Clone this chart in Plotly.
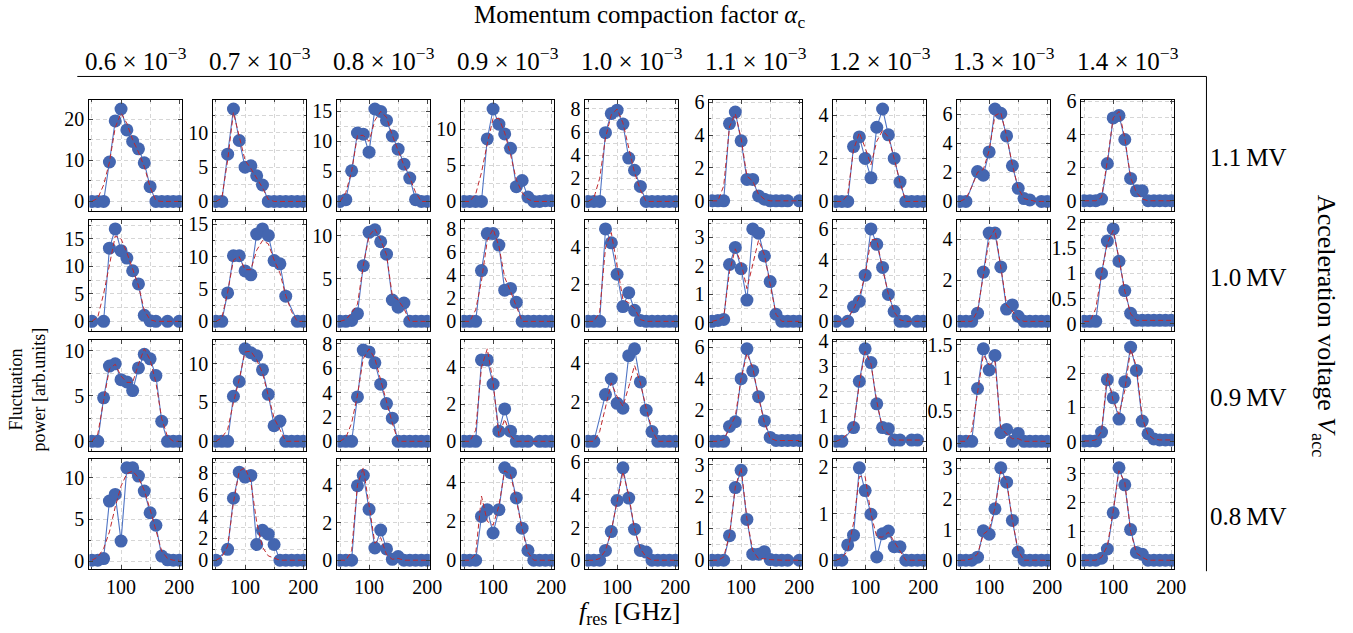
import plotly.graph_objects as go

# ---------------- data ----------------
f_res = [50, 60, 70, 80, 90, 100, 110, 120, 130, 140, 150, 160, 170, 180, 190, 200]

alpha_labels = ["0.6", "0.7", "0.8", "0.9", "1.0", "1.1", "1.2", "1.3", "1.4"]
voltage_labels = ["1.1\u2009MV", "1.0\u2009MV", "0.9\u2009MV", "0.8\u2009MV"]

# row 1 (1.1 MV)
b11 = [0, 0, 0, 9.6, 19.6, 22.5, 17.4, 14.6, 12.8, 9.4, 3.6, 0, 0, 0, 0, 0]
r11 = [0, 0.8, 4, 9.5, 18, 21.5, 19, 15, 12, 8.5, 3.5, 0.2, 0, 0, 0, 0]
b12 = [0, 0, 6.9, 13.5, 8.9, 5.0, 5.2, 3.75, 2.4, 0, 0, 0, 0, 0, 0, 0]
r12 = [0, 0.5, 6, 13, 9.5, 6, 4.8, 3.5, 2, 0.3, 0, 0, 0, 0, 0, 0]
b13 = [0, 0.3, 5.1, 11.4, 11.2, 8.2, 15.4, 15.0, 13.5, 10.9, 8.7, 6.2, 3.9, 0.3, 0, 0]
r13 = [0, 1.5, 5, 11, 11, 10, 13.5, 15, 14, 11, 8.5, 6, 4, 1.5, 0, 0]
b14 = [0, 0, 0, 0, 8.65, 12.8, 10.7, 9.35, 7.35, 2.05, 2.9, 0.6, 0, 0, 0.1, 0.1]
r14 = [0, 0, 1, 4, 8, 11.5, 11.5, 9.5, 6.5, 3, 1.2, 0.3, 0, 0, 0, 0]
b15 = [0, 0, 0, 5.95, 7.6, 7.9, 6.7, 3.75, 2.7, 1.3, 0, 0, 0, 0, 0, 0]
r15 = [0, 0.3, 2, 5.5, 7.5, 8, 6.8, 4.5, 2.5, 1, 0, 0, 0, 0, 0, 0]
b16 = [0, 0, 0, 4.7, 5.4, 3.65, 1.3, 1.3, 0.3, 0.1, 0, 0, 0, 0, None, 0]
r16 = [0, 0, 0.9, 4.5, 5.3, 3.8, 1.5, 1.2, 0.4, 0.1, 0, 0, 0, 0, 0, 0]
b17 = [0, 0, 0, 2.55, 3.0, 2.0, 1.1, 3.45, 4.3, 3.1, 2.0, 0.9, 0, 0, 0, 0]
r17 = [0, 0, 0.3, 2.4, 3.2, 2.5, 1.7, 2.8, 3.3, 3.0, 2.0, 0.9, 0, 0, 0, 0]
b18 = [0, 0, None, 2.05, 1.8, 3.4, 6.35, 6.05, 4.5, 2.45, 0.9, 0.2, 0.1, None, 0, 0]
r18 = [0, 0.2, 1, 2, 2.2, 3.5, 5.9, 6.1, 4.5, 2.5, 0.9, 0.2, 0.1, 0, 0, 0]
b19 = [0, 0, 0, 0.1, 2.25, 5.0, 5.15, 3.7, 1.35, 0.6, 0.6, 0, 0, 0, 0, 0]
r19 = [0, 0, 0, 0.2, 2.4, 5.0, 5.4, 3.8, 1.4, 0.5, 0.1, 0, 0, 0, 0, 0]

# row 2 (1.0 MV)
b21 = [0, None, 0, 13.3, 16.8, 12.85, 11.5, 9.2, 6.8, 1.1, 0.1, 0, None, 0, None, 0]
r21 = [0, 0.8, 5, 10.5, 15.5, 15, 12.5, 9.5, 6.5, 2, 0.3, 0, 0, 0, 0, 0]
b22 = [0, 0, 4.4, 10.15, 10.15, 7.8, 7.2, 13.5, 14.3, 13.3, 9.4, 8.9, 3.9, None, 0, 0]
r22 = [0, 0.5, 4.5, 9.5, 10, 8, 8, 11, 12.5, 12, 9.5, 7.5, 4, 1.5, 0, 0]
b23 = [0, 0, 0.1, 0.9, 6.5, 10.4, 10.7, 9.3, 7.85, 2.5, 1.65, 2.15, 0, 0, 0, 0]
r23 = [0, 0.2, 1, 2, 6.5, 10, 10.8, 9.5, 7.8, 3, 2.5, 1.5, 0, 0, 0, 0]
b24 = [0, 0, 0, 4.4, 7.6, 7.6, 6.6, 2.7, 2.85, 1.65, 0, 0, 0, 0, 0, 0]
r24 = [0, 0, 1, 3.5, 7, 8, 6.5, 3.8, 2.6, 1.3, 0, 0, 0, 0, 0, 0]
b25 = [0, 0, 0, 5.0, 4.25, 2.55, 0.8, 1.55, 0.6, 0.05, 0, 0, 0, 0, 0, 0]
r25 = [0, 0, 0.5, 4, 4.8, 3, 1.2, 1.0, 0.7, 0.1, 0, 0, 0, 0, 0, 0]
b26 = [0.05, 0.08, 0.12, 2.05, 2.65, 1.9, 0.8, 3.3, 3.15, 2.35, 1.45, 0.3, 0.05, 0.05, 0.05, 0.05]
r26 = [0.05, 0.1, 0.2, 1.8, 2.6, 2.1, 1.2, 2.1, 2.9, 2.4, 1.3, 0.3, 0.05, 0.05, 0.05, 0.05]
b27 = [0, None, 0, 0.95, 1.3, 3.0, 6.0, 5.0, 3.5, 1.75, 0.65, 0, 0, None, 0, 0]
r27 = [0, 0, 0.2, 0.8, 1.6, 3.0, 5.3, 5.3, 3.4, 1.8, 0.6, 0.1, 0, 0, 0, 0]
b28 = [0, 0, 0, 0.4, 2.4, 4.3, 4.3, 2.65, 0.6, 0.8, 0.25, 0, 0, 0, 0, 0]
r28 = [0, 0, 0, 0.5, 2.2, 4.0, 4.5, 2.7, 0.8, 0.5, 0.1, 0, 0, 0, 0, 0]
b29 = [0.05, 0.05, 0.05, 1.0, 1.64, 1.88, 1.24, 0.66, 0.21, 0.07, 0.07, 0.07, 0.07, 0.07, 0.07, 0.07]
r29 = [0.05, 0.05, 0.3, 1.0, 1.6, 1.85, 1.3, 0.65, 0.2, 0.07, 0.07, 0.07, 0.07, 0.07, 0.07, 0.07]

# row 3 (0.9 MV)
b31 = [0, 0, 4.8, 8.3, 8.55, 6.8, 6.55, 5.6, 8.1, 9.6, 9.1, 7.25, 2.2, 0, 0, 0]
r31 = [0, 0.8, 4.5, 8, 8.5, 7.2, 6.5, 6.5, 8.5, 10.2, 9, 6.5, 2.5, 0.5, 0, 0]
b32 = [0, 0, 0, 5.8, 7.7, 11.9, 11.4, 11.0, 9.2, 6.05, 2.0, 2.6, 0, 0, 0, 0]
r32 = [0, 0.5, 1.5, 5, 8, 11.5, 11.6, 10.5, 8.8, 6, 3, 1.5, 0, 0, 0, 0]
b33 = [0, 0, 0, 3.65, 7.5, 7.35, 6.45, 4.7, 3.1, 1.9, 0, 0, 0, 0, 0, 0]
r33 = [0, 0.3, 1.5, 3.8, 6.8, 7.6, 6.8, 5, 3.3, 1.5, 0, 0, 0, 0, 0, 0]
b34 = [0, 0, 0, 4.4, 4.4, 3.1, 0.55, 1.75, 0.55, 0, 0, 0, None, 0, 0, 0]
r34 = [0, 0, 0.6, 4.0, 5.0, 3.2, 0.3, 1.2, 0.3, 0, 0, 0, 0, 0, 0, 0]
b35 = [0, 0, None, 2.4, 3.2, 1.95, 1.7, 4.4, 4.75, 3.05, 1.6, 0.5, 0, 0, 0, 0]
r35 = [0, 0, 0.5, 1.8, 3.0, 2.3, 1.8, 2.8, 3.9, 3.0, 1.7, 0.6, 0, 0, 0, 0]
b36 = [0, 0, 0, 0.95, 1.25, 4.0, 5.9, 4.5, 2.85, 1.3, 0.25, 0.05, 0.05, 0.05, 0.05, 0.05]
r36 = [0, 0, 0.1, 0.8, 1.6, 4.0, 5.6, 4.7, 2.8, 1.2, 0.2, 0.05, 0.05, 0.05, 0.05, 0.05]
b37 = [0, 0, None, 0.55, 2.4, 3.7, 3.15, 1.5, 0.55, 0.5, 0.05, 0.05, None, 0.05, 0.05, None]
r37 = [0, 0.1, 0.3, 0.6, 2.3, 3.6, 3.1, 1.6, 0.5, 0.3, 0.05, 0.05, 0.05, 0.05, 0.05, 0.05]
b38 = [0.04, 0.04, 0.04, 0.84, 1.44, 1.12, 1.34, 0.17, 0.22, 0.04, 0.16, 0.04, 0.04, 0.04, 0.04, 0.04]
r38 = [0.04, 0.04, 0.2, 0.8, 1.35, 1.2, 1.25, 0.25, 0.15, 0.08, 0.08, 0.04, 0.04, 0.04, 0.04, 0.04]
b39 = [0.02, 0.02, 0.02, 0.28, 1.81, 1.28, 0.66, 1.75, 2.76, 2.08, 0.6, 0.23, 0.08, 0.05, 0.05, 0.05]
r39 = [0.02, 0.02, 0.05, 0.3, 2.0, 1.2, 0.8, 1.5, 2.7, 2.2, 0.7, 0.2, 0.08, 0.05, 0.05, 0.05]

# row 4 (0.8 MV)
b41 = [0.1, 0.1, 0.3, 7.2, 8.0, 2.4, 11.2, 11.2, 10.2, 8.4, 5.8, 4.3, 0.6, 0.15, 0.1, 0.1]
r41 = [0.1, 0.5, 1.5, 3.5, 6.5, 9, 10.5, 10.8, 10, 8.5, 6.2, 3.8, 1.2, 0.3, 0.1, 0.1]
b42 = [0, None, 1.0, 5.7, 8.1, 7.65, 7.8, 1.45, 2.75, 2.4, 1.45, 0, 0, 0, 0, 0]
r42 = [0, 0.3, 1.3, 5.3, 8.2, 8.5, 7.2, 3.5, 1.2, 0.4, 0.2, 0, 0, 0, 0, 0]
b43 = [0, 0, 0, 3.95, 4.5, 2.7, 0.65, 1.6, 0.6, 0.05, 0.2, 0, 0, 0, 0, 0]
r43 = [0, 0, 0.5, 4.0, 4.9, 3.0, 0.9, 1.2, 0.3, 0.05, 0.1, 0, 0, 0, 0, 0]
b44 = [0, 0, 0, 2.25, 2.6, 1.4, 2.6, 4.75, 4.5, 3.2, 1.65, 0.5, 0, 0, 0, 0]
r44 = [0, 0, 0.3, 3.3, 2.0, 1.8, 2.8, 4.6, 4.4, 3.1, 1.6, 0.4, 0, 0, 0, 0]
b45 = [0, 0, 0, 0.6, 1.75, 3.65, 5.65, 3.8, 1.9, 0.6, 0.5, 0, 0, 0, 0, 0]
r45 = [0, 0, 0.1, 0.6, 1.8, 3.6, 5.4, 4.0, 1.9, 0.7, 0.2, 0, 0, 0, 0, 0]
b46 = [0, 0, 0, 0.77, 2.28, 2.82, 1.28, 0.19, 0.19, 0.27, 0.02, 0, 0, 0, None, 0]
r46 = [0, 0, 0.1, 0.8, 2.3, 2.9, 1.3, 0.3, 0.05, 0.05, 0.02, 0, 0, 0, 0, 0]
b47 = [0, 0, 0.33, 0.54, 1.99, 1.5, 0.99, 0.07, 0.57, 0.63, 0.29, 0.29, 0, 0, 0, 0]
r47 = [0, 0.05, 0.2, 0.8, 1.8, 1.8, 1.0, 0.5, 0.5, 0.6, 0.4, 0.2, 0, 0, 0, 0]
b48 = [0, 0, 0, 0.1, 0.96, 0.85, 1.68, 3.02, 2.55, 1.3, 0.27, 0, 0, 0, 0, 0]
r48 = [0, 0, 0.05, 0.2, 0.85, 1.0, 1.7, 2.9, 2.6, 1.3, 0.3, 0, 0, 0, 0, 0]
b49 = [0, 0, 0, 0.07, 0.39, 1.64, 3.2, 2.61, 1.06, 0.27, 0.21, 0, 0, 0, 0, 0]
r49 = [0, 0, 0, 0.1, 0.5, 1.7, 3.1, 2.7, 1.0, 0.25, 0.1, 0, 0, 0, 0, 0]

y_dticks = [
    [10, 5, 5, 5, 2, 2, 2, 2, 2],
    [5, 5, 5, 2, 2, 1, 2, 2, 0.5],
    [5, 5, 2, 2, 2, 2, 1, 0.5, 1],
    [5, 2, 2, 2, 2, 1, 1, 1, 1],
]
# axis limits that differ from the default 10 % enlargement
y_limit_override = {(0, 5): [-0.6, 6.15], (0, 8): [-0.6, 6.1], (2, 8): [-0.26, 2.98]}

blue = [
    [b11, b12, b13, b14, b15, b16, b17, b18, b19],
    [b21, b22, b23, b24, b25, b26, b27, b28, b29],
    [b31, b32, b33, b34, b35, b36, b37, b38, b39],
    [b41, b42, b43, b44, b45, b46, b47, b48, b49],
]
red = [
    [r11, r12, r13, r14, r15, r16, r17, r18, r19],
    [r21, r22, r23, r24, r25, r26, r27, r28, r29],
    [r31, r32, r33, r34, r35, r36, r37, r38, r39],
    [r41, r42, r43, r44, r45, r46, r47, r48, r49],
]

# ---------------- layout ----------------
W, H = 1353, 633
FONT = "Liberation Serif"
BLUE_M = "#4466b0"
BLUE_L = "#4f74c4"
RED = "#c0282d"
GRID = "#d6d6d6"


def fx(x):
    """target pixel x -> paper fraction (compensates the viewer's scaling)"""
    return ((x - 0.7) / 0.991) / W


def fy(y):
    """target pixel y (from top) -> paper fraction"""
    return 1 - ((y - 7.5) / 0.98) / H


col_left = [90 + 124 * k for k in range(9)]
col_w = 92.5
row_top = [98.3, 218.3, 338.3, 457.3]
row_h = 111

fig = go.Figure()
layout = dict(
    width=W, height=H, autosize=False, margin=dict(l=0, r=0, t=0, b=0),
    paper_bgcolor="white", plot_bgcolor="white", showlegend=False,
    font=dict(family=FONT, size=20, color="black"),
)

for r in range(4):
    for c in range(9):
        i = r * 9 + c + 1
        xa = "x" if i == 1 else f"x{i}"
        ya = "y" if i == 1 else f"y{i}"
        bl = blue[r][c]
        rd = red[r][c]
        fig.add_trace(go.Scatter(
            x=f_res, y=bl, xaxis=xa, yaxis=ya, mode="lines+markers",
            connectgaps=True,
            line=dict(color=BLUE_L, width=1.1),
            marker=dict(color=BLUE_M, size=13, line=dict(width=0)),
            cliponaxis=True, hoverinfo="skip"))
        fig.add_trace(go.Scatter(
            x=f_res, y=rd, xaxis=xa, yaxis=ya, mode="lines",
            line=dict(color=RED, width=1, dash="5px,3px"),
            hoverinfo="skip"))
        vals = [v for v in bl + rd if v is not None]
        lo, hi = min(vals), max(vals)
        pad = 0.1 * (hi - lo)
        yr = y_limit_override.get((r, c), [lo - pad, hi + pad])
        d = y_dticks[r][c]
        kx = "xaxis" if i == 1 else f"xaxis{i}"
        ky = "yaxis" if i == 1 else f"yaxis{i}"
        layout[kx] = dict(
            domain=[fx(col_left[c]), fx(col_left[c] + col_w)], anchor=ya,
            range=[45.4, 204.6],
            tickmode="array", tickvals=[100, 200], ticktext=["100", "200"],
            showticklabels=(r == 3),
            tickfont=dict(family=FONT, size=20),
            ticks="inside", ticklen=4, tickcolor="#444", mirror="ticks",
            showline=True, linecolor="black", linewidth=1,
            showgrid=True, gridcolor=GRID, griddash="4px,3px", gridwidth=1,
            zeroline=False,
            minor=dict(tickmode="array", tickvals=[50, 150], showgrid=True,
                       gridcolor=GRID, griddash="4px,3px", ticks="inside",
                       ticklen=2, tickcolor="#444"),
        )
        layout[ky] = dict(
            domain=[fy(row_top[r] + row_h), fy(row_top[r])], anchor=xa, range=yr,
            tickmode="linear", tick0=0, dtick=d,
            tickfont=dict(family=FONT, size=20),
            ticks="inside", ticklen=4, tickcolor="#444", mirror="ticks",
            showline=True, linecolor="black", linewidth=1,
            showgrid=True, gridcolor=GRID, griddash="4px,3px", gridwidth=1,
            zeroline=False,
            minor=dict(tick0=0, dtick=d / 2, showgrid=True, gridcolor=GRID,
                       griddash="4px,3px", ticks="inside", ticklen=2,
                       tickcolor="#444"),
        )

annotations = []
for c, a in enumerate(alpha_labels):
    annotations.append(dict(
        x=fx(col_left[c] + col_w / 2), y=fy(58), xref="paper", yref="paper",
        text=f"{a} \u00d7 10<sup>\u22123</sup>", showarrow=False,
        xanchor="center", yanchor="middle", font=dict(family=FONT, size=25)))
for r, v in enumerate(voltage_labels):
    annotations.append(dict(
        x=fx(1249), y=fy(row_top[r] + row_h / 2 + 2), xref="paper", yref="paper",
        text=v, showarrow=False, xanchor="center", yanchor="middle",
        font=dict(family=FONT, size=25)))
annotations.append(dict(
    x=fx(640), y=fy(15), xref="paper", yref="paper",
    text="Momentum compaction factor <i>\u03b1</i><sub>c</sub>", showarrow=False,
    xanchor="center", yanchor="middle", font=dict(family=FONT, size=25)))
annotations.append(dict(
    x=fx(1325), y=fy(325), xref="paper", yref="paper", textangle=90,
    text="Acceleration voltage <i>V</i><sub>acc</sub>", showarrow=False,
    xanchor="center", yanchor="middle", font=dict(family=FONT, size=26)))
annotations.append(dict(
    x=fx(28), y=fy(388), xref="paper", yref="paper", textangle=-90,
    text="Fluctuation<br>power [arb.units]", showarrow=False,
    xanchor="center", yanchor="middle", font=dict(family=FONT, size=18)))
annotations.append(dict(
    x=fx(630), y=fy(612), xref="paper", yref="paper",
    text="<i>f</i><sub>res</sub> [GHz]", showarrow=False,
    xanchor="center", yanchor="middle", font=dict(family=FONT, size=26)))

shapes = [
    dict(type="line", xref="paper", yref="paper", x0=fx(78), x1=fx(1207),
         y0=fy(75), y1=fy(75), line=dict(color="black", width=1)),
    dict(type="line", xref="paper", yref="paper", x0=fx(1207), x1=fx(1207),
         y0=fy(75), y1=fy(570), line=dict(color="black", width=1)),
]

layout["annotations"] = annotations
layout["shapes"] = shapes
fig.update_layout(**layout)
fig.write_html("out.html", config={"responsive": False})
